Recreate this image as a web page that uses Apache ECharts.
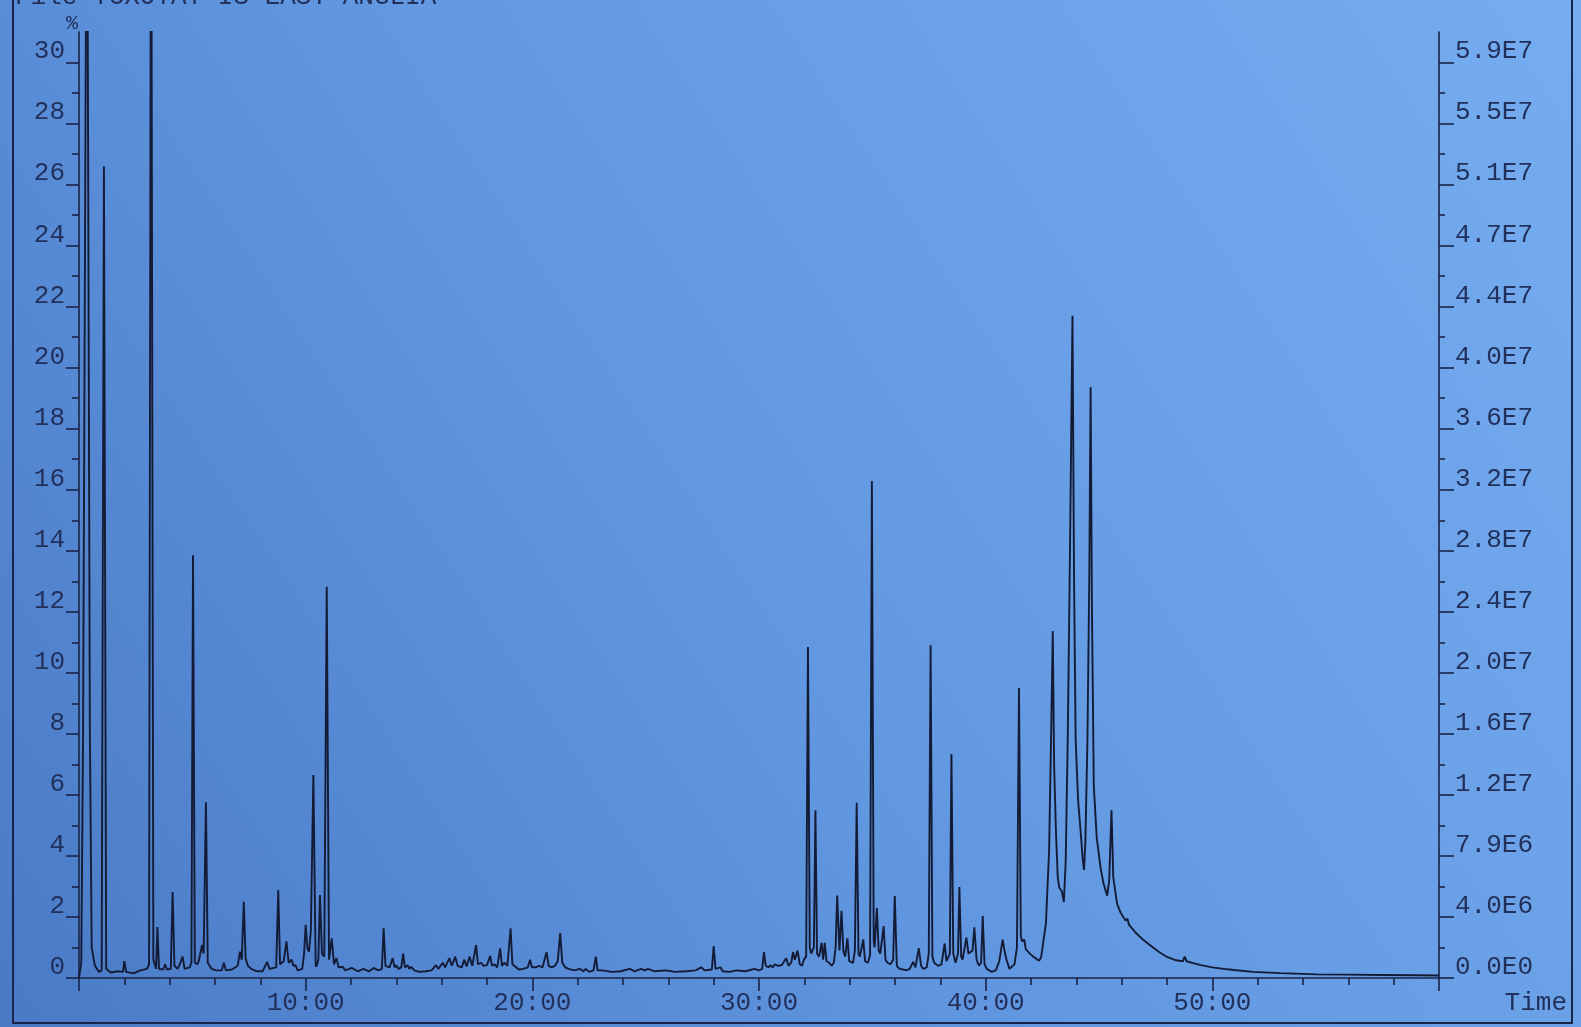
<!DOCTYPE html>
<html>
<head>
<meta charset="utf-8">
<title>TIC</title>
<script src="https://cdn.jsdelivr.net/npm/echarts@6/dist/echarts.min.js"></script>
<style>
  html, body { margin: 0; padding: 0; width: 1581px; height: 1027px; overflow: hidden; }
  #chart { width: 1581px; height: 1027px; }
</style>
</head>
<body>
<div id="chart"></div>
<script>
// Retention time (min) and relative intensity (%) of the total ion trace.
// Off-scale solvent peaks are given an estimated apex above the plotted range.
const rtMinutes = [
  0.00, 0.10, 0.18, 0.35, 0.48, 0.56, 0.70, 0.88, 1.00, 1.10, 1.20, 1.40, 1.70, 1.94, 2.00, 2.08,
  2.40, 2.70, 3.00, 3.09, 3.18, 3.28, 3.40, 3.46, 3.53, 3.72, 3.80, 3.88, 4.05, 4.13, 4.21, 4.35,
  4.45, 4.57, 4.66, 4.88, 4.96, 5.03, 5.11, 5.22, 5.28, 5.36, 5.43, 5.50, 5.60, 5.68, 5.85, 6.05,
  6.30, 6.39, 6.48, 6.75, 7.00, 7.10, 7.18, 7.27, 7.35, 7.45, 7.60, 7.85, 8.10, 8.30, 8.40, 8.70,
  8.79, 8.87, 9.03, 9.15, 9.25, 9.38, 9.46, 9.55, 9.65, 9.85, 9.93, 10.00, 10.08, 10.15, 10.23, 10.34,
  10.44, 10.47, 10.56, 10.63, 10.72, 10.82, 10.93, 11.03, 11.15, 11.25, 11.36, 11.45, 11.62, 11.75, 12.03, 12.30,
  12.55, 12.80, 13.00, 13.20, 13.36, 13.44, 13.52, 13.70, 13.84, 13.92, 13.99, 14.10, 14.22, 14.30, 14.38, 14.50,
  14.57, 14.64, 14.80, 15.00, 15.30, 15.55, 15.75, 15.85, 16.05, 16.15, 16.34, 16.45, 16.60, 16.70, 16.78, 16.88,
  17.00, 17.10, 17.23, 17.35, 17.52, 17.60, 17.74, 17.85, 18.00, 18.14, 18.22, 18.33, 18.45, 18.58, 18.66, 18.77,
  18.90, 19.04, 19.12, 19.20, 19.40, 19.60, 19.80, 19.90, 19.98, 20.15, 20.30, 20.45, 20.63, 20.72, 20.85, 21.00,
  21.12, 21.23, 21.32, 21.45, 21.60, 21.85, 22.10, 22.25, 22.36, 22.50, 22.70, 22.80, 22.88, 23.10, 23.50, 23.90,
  24.30, 24.50, 24.80, 24.95, 25.10, 25.40, 25.90, 26.30, 26.80, 27.20, 27.45, 27.60, 27.92, 28.00, 28.08, 28.30,
  28.40, 28.70, 29.00, 29.40, 29.80, 30.00, 30.14, 30.22, 30.30, 30.42, 30.50, 30.60, 30.70, 30.85, 31.00, 31.20,
  31.30, 31.42, 31.50, 31.58, 31.70, 31.80, 31.90, 31.98, 32.08, 32.16, 32.24, 32.30, 32.42, 32.49, 32.56, 32.65,
  32.76, 32.83, 32.90, 32.98, 33.10, 33.20, 33.30, 33.38, 33.45, 33.55, 33.64, 33.72, 33.80, 33.90, 33.98, 34.05,
  34.15, 34.23, 34.31, 34.39, 34.45, 34.60, 34.68, 34.80, 34.90, 34.98, 35.06, 35.10, 35.20, 35.28, 35.35, 35.50,
  35.58, 35.67, 35.80, 35.92, 35.99, 36.08, 36.20, 36.35, 36.50, 36.65, 36.80, 36.90, 37.05, 37.15, 37.25, 37.40,
  37.49, 37.57, 37.65, 37.73, 37.90, 38.05, 38.19, 38.27, 38.33, 38.42, 38.49, 38.57, 38.67, 38.78, 38.84, 38.92,
  38.98, 39.15, 39.24, 39.30, 39.42, 39.50, 39.60, 39.70, 39.80, 39.87, 39.95, 40.05, 40.26, 40.45, 40.60, 40.68,
  40.75, 40.83, 40.92, 41.05, 41.27, 41.38, 41.47, 41.55, 41.60, 41.70, 41.77, 41.83, 41.95, 42.10, 42.25, 42.36,
  42.45, 42.66, 42.80, 42.90, 42.96, 43.02, 43.10, 43.18, 43.25, 43.36, 43.45, 43.53, 43.62, 43.72, 43.83, 43.90,
  43.97, 44.08, 44.19, 44.28, 44.34, 44.40, 44.49, 44.57, 44.63, 44.69, 44.77, 44.90, 45.07, 45.20, 45.36, 45.45,
  45.55, 45.63, 45.80, 45.95, 46.17, 46.25, 46.32, 46.60, 46.95, 47.30, 47.65, 48.00, 48.40, 48.70, 48.78, 48.86,
  49.20, 49.50, 50.00, 50.50, 50.96, 51.80, 53.00, 54.60, 56.00, 57.40, 59.00, 60.00
];
const relIntensity = [
  0.00, 0.50, 8.00, 40.0, 8.00, 1.00, 0.40, 0.20, 0.25, 26.6, 0.30, 0.18, 0.22, 0.20, 0.55, 0.20,
  0.15, 0.25, 0.30, 0.45, 40.0, 0.60, 0.30, 1.67, 0.30, 0.28, 0.45, 0.28, 0.30, 2.82, 0.40, 0.30,
  0.45, 0.70, 0.30, 0.35, 0.50, 13.85, 0.50, 0.45, 0.55, 0.60, 1.08, 0.80, 5.76, 0.50, 0.30, 0.25,
  0.25, 0.50, 0.25, 0.28, 0.40, 0.86, 0.60, 2.50, 0.65, 0.40, 0.30, 0.22, 0.22, 0.53, 0.30, 0.35,
  2.88, 0.45, 0.55, 1.20, 0.50, 0.60, 0.40, 0.42, 0.25, 0.30, 0.80, 1.74, 0.95, 0.86, 1.57, 6.65,
  0.45, 0.37, 0.60, 2.72, 0.80, 0.70, 12.82, 0.60, 1.30, 0.45, 0.65, 0.35, 0.37, 0.25, 0.33, 0.22,
  0.30, 0.22, 0.33, 0.25, 0.30, 1.63, 0.40, 0.35, 0.65, 0.35, 0.42, 0.30, 0.35, 0.80, 0.35, 0.42,
  0.30, 0.37, 0.25, 0.20, 0.22, 0.25, 0.42, 0.30, 0.50, 0.35, 0.65, 0.40, 0.70, 0.40, 0.42, 0.35,
  0.60, 0.38, 0.70, 0.40, 1.08, 0.45, 0.50, 0.40, 0.42, 0.72, 0.40, 0.45, 0.35, 0.97, 0.40, 0.50,
  0.40, 1.63, 0.45, 0.40, 0.28, 0.30, 0.35, 0.60, 0.35, 0.35, 0.40, 0.35, 0.85, 0.40, 0.35, 0.40,
  0.55, 1.47, 0.50, 0.35, 0.30, 0.25, 0.30, 0.22, 0.30, 0.20, 0.25, 0.70, 0.25, 0.25, 0.20, 0.22,
  0.30, 0.22, 0.30, 0.25, 0.30, 0.22, 0.25, 0.20, 0.22, 0.25, 0.35, 0.25, 0.28, 1.05, 0.30, 0.35,
  0.22, 0.20, 0.25, 0.22, 0.30, 0.25, 0.30, 0.85, 0.40, 0.35, 0.42, 0.35, 0.45, 0.40, 0.42, 0.65,
  0.40, 0.50, 0.85, 0.60, 0.90, 0.45, 0.40, 0.60, 0.70, 10.85, 1.00, 0.80, 1.00, 5.50, 0.80, 0.70,
  1.15, 0.60, 1.15, 0.55, 0.50, 0.40, 0.50, 1.00, 2.70, 0.90, 2.20, 0.90, 0.70, 1.30, 0.55, 0.50,
  0.50, 0.90, 5.74, 0.80, 0.70, 1.26, 0.55, 0.50, 0.75, 16.29, 1.20, 1.00, 2.29, 0.90, 0.80, 1.70,
  0.60, 0.50, 0.45, 0.60, 2.69, 0.40, 0.30, 0.28, 0.25, 0.30, 0.53, 0.35, 0.98, 0.40, 0.30, 0.35,
  0.80, 10.90, 0.70, 0.50, 0.40, 0.45, 1.13, 0.55, 0.50, 0.80, 7.34, 0.80, 0.50, 0.80, 2.98, 0.70,
  0.60, 1.32, 0.80, 0.80, 0.90, 1.66, 0.60, 0.40, 0.50, 2.03, 0.45, 0.30, 0.20, 0.25, 0.55, 0.60,
  1.26, 0.90, 0.60, 0.30, 0.45, 1.00, 9.50, 1.40, 1.20, 1.26, 0.95, 1.00, 0.80, 0.70, 0.62, 0.57,
  0.69, 1.80, 4.20, 8.50, 11.37, 7.00, 4.80, 3.30, 2.95, 2.85, 2.49, 3.80, 7.80, 14.00, 21.70, 13.00,
  7.80, 5.80, 4.80, 3.90, 3.54, 4.50, 7.80, 13.00, 19.36, 12.00, 6.30, 4.60, 3.60, 3.10, 2.70, 3.20,
  5.50, 3.30, 2.43, 2.15, 1.88, 1.95, 1.75, 1.50, 1.25, 1.05, 0.85, 0.69, 0.58, 0.55, 0.70, 0.55,
  0.48, 0.42, 0.35, 0.30, 0.26, 0.20, 0.16, 0.12, 0.11, 0.10, 0.09, 0.08
];

// Axis ticks and their printed labels
const pctTicks      = [0, 2, 4, 6, 8, 10, 12, 14, 16, 18, 20, 22, 24, 26, 28, 30];
const pctLabels     = ['0', '2', '4', '6', '8', '10', '12', '14', '16', '18', '20', '22', '24', '26', '28', '30'];
const pctMinorTicks = [1, 3, 5, 7, 9, 11, 13, 15, 17, 19, 21, 23, 25, 27, 29];
const countLabels   = ['0.0E0', '4.0E6', '7.9E6', '1.2E7', '1.6E7', '2.0E7', '2.4E7', '2.8E7',
                       '3.2E7', '3.6E7', '4.0E7', '4.4E7', '4.7E7', '5.1E7', '5.5E7', '5.9E7'];
const timeTicks     = [10, 20, 30, 40, 50];
const timeLabels    = ['10:00', '20:00', '30:00', '40:00', '50:00'];

const ink = '#1a2446';
const textInk = '#22305c';
const mono = '"Liberation Mono", "DejaVu Sans Mono", monospace';

const trace = rtMinutes.map((t, i) => [t, relIntensity[i]]);

const chart = echarts.init(document.getElementById('chart'), null, { renderer: 'canvas' });

const labelFromList = (ticks, labels) => (v) => {
  const i = ticks.findIndex(tk => Math.abs(tk - v) < 1e-6);
  return i >= 0 ? labels[i] : '';
};

chart.setOption({
  animation: false,
  backgroundColor: {
    type: 'linear', x: 0, y: 1, x2: 1, y2: 0,
    colorStops: [
      { offset: 0, color: '#4a7ac6' },
      { offset: 0.45, color: '#6197e0' },
      { offset: 1, color: '#76adf0' }
    ]
  },
  grid: { left: 79, right: 142, top: 32, bottom: 49, containLabel: false },
  xAxis: [{
    type: 'value', min: 0, max: 60, interval: 10,
    axisLine: { show: true, lineStyle: { color: ink, width: 1.6 } },
    axisTick: { show: true, length: 13, lineStyle: { color: ink, width: 1.6 } },
    minorTick: { show: true, splitNumber: 5, length: 7, lineStyle: { color: ink, width: 1.6 } },
    splitLine: { show: false },
    minorSplitLine: { show: false },
    axisLabel: {
      margin: 12, fontFamily: mono, fontSize: 26, color: textInk,
      formatter: labelFromList(timeTicks, timeLabels)
    }
  }],
  yAxis: [
    {
      type: 'value', position: 'left', min: 0, max: 31,
      axisLine: { show: true, lineStyle: { color: ink, width: 1.6 } },
      axisTick: { show: true, length: 13, customValues: pctTicks, lineStyle: { color: ink, width: 1.6 } },
      axisLabel: {
        customValues: pctTicks, margin: 14, fontFamily: mono, fontSize: 26, color: textInk,
        verticalAlign: 'bottom', lineHeight: 22,
        formatter: labelFromList(pctTicks, pctLabels)
      },
      splitLine: { show: false }
    },
    {
      type: 'value', position: 'right', min: 0, max: 31,
      axisLine: { show: true, lineStyle: { color: ink, width: 1.6 } },
      axisTick: { show: true, length: 15, customValues: pctTicks, lineStyle: { color: ink, width: 1.6 } },
      axisLabel: {
        customValues: pctTicks, margin: 16, fontFamily: mono, fontSize: 26, color: textInk,
        verticalAlign: 'bottom', lineHeight: 22, align: 'left',
        formatter: labelFromList(pctTicks, countLabels)
      },
      splitLine: { show: false }
    },
    {
      type: 'value', position: 'left', min: 0, max: 31,
      axisLine: { show: false },
      axisTick: { show: true, length: 7, customValues: pctMinorTicks, lineStyle: { color: ink, width: 1.6 } },
      axisLabel: { show: false },
      splitLine: { show: false }
    },
    {
      type: 'value', position: 'right', min: 0, max: 31,
      axisLine: { show: false },
      axisTick: { show: true, length: 6, customValues: pctMinorTicks, lineStyle: { color: ink, width: 1.6 } },
      axisLabel: { show: false },
      splitLine: { show: false }
    }
  ],
  series: [{
    type: 'line',
    xAxisIndex: 0,
    yAxisIndex: 0,
    data: trace,
    showSymbol: false,
    clip: true,
    lineStyle: { color: '#141b36', width: 1.9 },
    z: 3
  }],
  graphic: [
    {
      type: 'rect', z: 0, silent: true,
      shape: { x: 13, y: -10, width: 1559, height: 1033 },
      style: { fill: 'none', stroke: ink, lineWidth: 2 }
    },
    {
      type: 'text', left: 15, top: -16,
      style: { text: 'File TCXOTAT IS EAST ANGLIA', font: '26px ' + mono, fill: textInk }
    },
    {
      type: 'text', x: 72, y: 24,
      style: { text: '%', font: '20px ' + mono, fill: textInk, textAlign: 'center', textVerticalAlign: 'middle' }
    },
    {
      type: 'text', x: 1567, y: 1003,
      style: { text: 'Time', font: '26px ' + mono, fill: textInk, textAlign: 'right', textVerticalAlign: 'middle' }
    }
  ]
});
</script>
</body>
</html>
